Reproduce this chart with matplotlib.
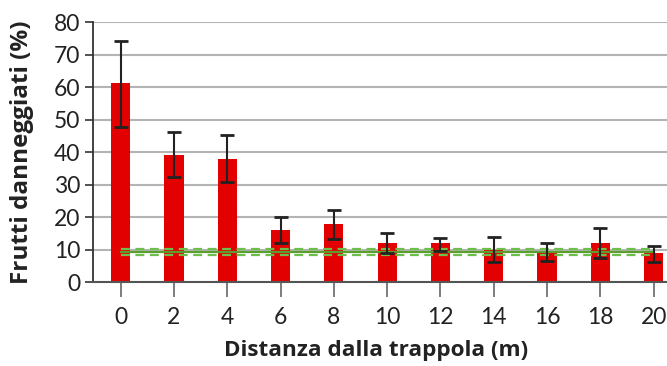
import matplotlib
matplotlib.use("Agg")
import matplotlib.pyplot as plt
import numpy as np

distances = [0, 2, 4, 6, 8, 10, 12, 14, 16, 18, 20]
damaged = [61.2, 39.1, 37.8, 15.9, 17.8, 11.9, 11.9, 10.0, 9.0, 11.9, 9.0]
err_low = [13.5, 6.7, 7.1, 3.9, 4.6, 3.1, 2.3, 3.9, 2.5, 4.5, 2.9]
err_high = [13.1, 7.1, 7.4, 4.1, 4.3, 3.2, 1.7, 3.9, 3.0, 4.8, 2.1]
baseline = 9.2
baseline_low = 8.2
baseline_high = 10.2
yticks = [0, 10, 20, 30, 40, 50, 60, 70, 80]

plt.rcParams['font.family'] = ['Lato', 'DejaVu Sans']

fig = plt.figure(figsize=(6.67, 3.66), dpi=100)
ax = fig.add_axes([0.139, 0.2295, 0.861, 0.710])

for y in yticks[1:]:
    ax.axhline(y, color='#b4b4b4', lw=1.5, zorder=0)

ax.bar(distances, damaged, width=0.72, color='#e30000', zorder=2)
ax.errorbar(distances, damaged, yerr=[err_low, err_high], fmt='none',
            ecolor='#222222', elinewidth=1.5, capsize=5, capthick=2, zorder=4)

ax.plot([distances[0], distances[-1]], [baseline, baseline], color='#5a9e2e', lw=1.6, zorder=3)
ax.plot([distances[0], distances[-1]], [baseline_low, baseline_low], color='#6cbf4a', lw=1.6, ls=(0, (4, 2.5)), zorder=3)
ax.plot([distances[0], distances[-1]], [baseline_high, baseline_high], color='#6cbf4a', lw=1.6, ls=(0, (4, 2.5)), zorder=3)

ax.set_xlim(-1.05, 20.5)
ax.set_ylim(0, 80)
ax.set_xticks(distances)
ax.set_yticks(yticks)
ax.tick_params(axis='x', length=11, width=1.2, color='#666666', labelsize=16.5, pad=7, labelcolor='#222222')
ax.tick_params(axis='y', length=6, width=1.2, color='#333333', labelsize=16.5, pad=3, labelcolor='#222222')

for s in ['top', 'right']:
    ax.spines[s].set_visible(False)
ax.spines['left'].set_color('#333333')
ax.spines['left'].set_linewidth(1.3)
ax.spines['bottom'].set_color('#555555')
ax.spines['bottom'].set_linewidth(1.5)

ax.set_ylabel('Frutti danneggiati (%)', fontsize=17.5, fontweight='bold', family=['Open Sans', 'DejaVu Sans'], color='#222222')
ax.set_xlabel('Distanza dalla trappola (m)', fontsize=16.2, fontweight='bold', family=['Open Sans', 'DejaVu Sans'], color='#222222')
ax.yaxis.set_label_coords(-0.102, 0.5)
ax.xaxis.set_label_coords(0.493, -0.225)

fig.savefig('out.png', dpi=100)
